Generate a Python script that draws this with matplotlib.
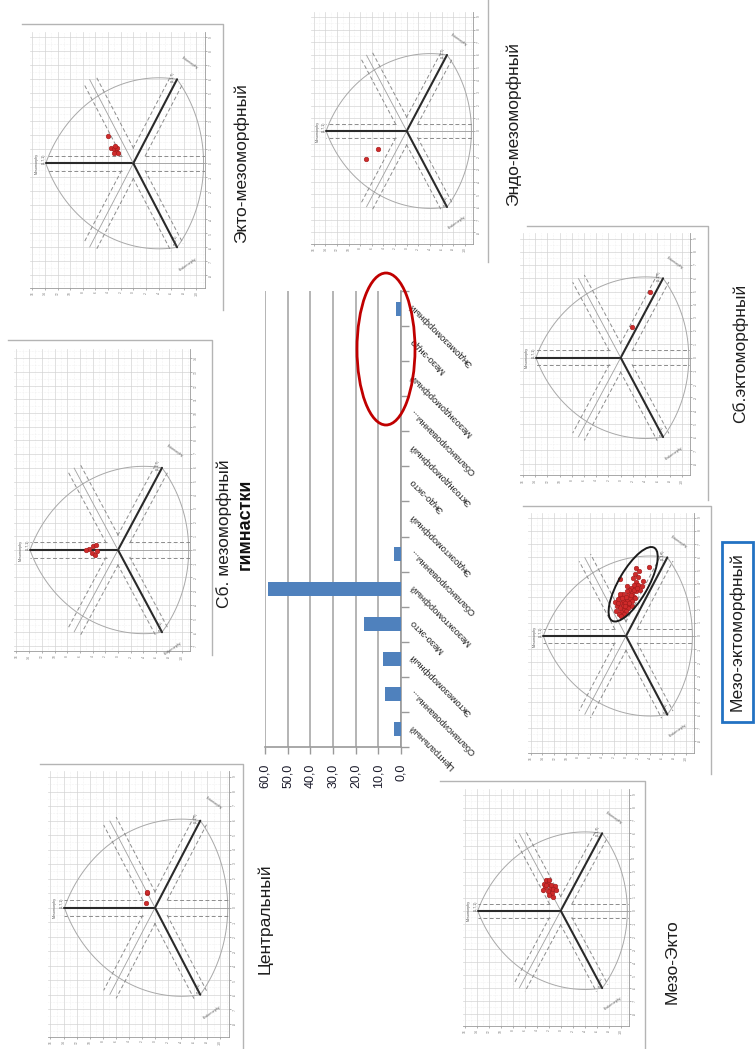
import numpy as np
import matplotlib
matplotlib.use("Agg")
import matplotlib.pyplot as plt
from matplotlib.patches import Ellipse, Rectangle

plt.rcParams['font.family'] = ['Liberation Sans', 'DejaVu Sans']

# ---------------- data ----------------
categories = ["Центральный", "Сбалансированны...", "Эктомезоморфный", "Мезо-экто",
              "Мезоэктоморфный", "Сбалансированны...", "Эндоэктоморфный", "Эндо-экто",
              "Эктоэндоморфный", "Сбалансированны...", "Мезоэндоморфный", "Мезо-эндо",
              "Эндомезоморфный"]
shares = [2.9, 6.9, 8.0, 16.3, 58.8, 2.9, 0.0, 0.0, 0.0, 0.0, 0.0, 0.0, 2.0]
value_ticks = [0, 10, 20, 30, 40, 50, 60]
value_tick_labels = ["0,0", "10,0", "20,0", "30,0", "40,0", "50,0", "60,0"]

# somatochart coordinates: X = ecto - endo, Y = 2*meso - endo - ecto
ecto_meso_X = [1.95, 1.07, 1.0, 1.07, 0.8, 0.7, 0.75, 1.2]
ecto_meso_Y = [3.5, 3.0, 2.6, 2.3, 2.4, 2.7, 2.1, 2.5]

endo_meso_X = [-1.4, -2.2]
endo_meso_Y = [4.3, 6.0]

bal_meso_X = [0.3, -0.2, 0.1, -0.4, 0.4, -0.1, 0.0]
bal_meso_Y = [3.4, 3.6, 4.0, 3.2, 3.0, 2.8, 4.3]

central_X = [0.99, 1.1, 0.3]
central_Y = [1.1, 1.05, 1.15]

meso_ecto_X = [5.3, 5.2, 5.0, 4.7, 4.5, 4.4, 4.2, 4.1, 3.9, 3.9, 3.8, 3.7, 3.6, 3.5,
               3.4, 3.3, 3.4, 3.2, 3.1, 3.0, 3.0, 2.9, 2.8, 2.9, 2.8, 2.7, 2.7, 2.7,
               2.5, 2.5, 2.4, 2.3, 2.3, 2.2, 2.3, 2.1, 2.0, 2.1, 1.9, 1.8, 1.9, 1.7,
               1.7, 1.5, 2.6, 3.5, 4.35, 3.8, 3.0, 2.9, 2.5, 2.5, 3.1, 2.3, 3.5, 3.7,
               3.2]
meso_ecto_Y = [-3.3, -1.5, -1.9, -1.3, -1.8, -1.0, -2.5, -1.5, -1.1, -1.8, -2.3, -0.7,
               -1.3, -0.5, -0.1, -0.9, -1.5, 0.4, -0.3, -1.1, 0.9, 0.1, -0.6, -1.3,
               1.2, 0.5, -0.2, -0.9, 0.8, 0.1, -0.5, 1.3, 0.5, -0.1, -0.8, 0.9, 0.3,
               -0.3, 1.4, 0.7, 0.0, 1.0, 0.3, 0.7, 1.6, -2.0, 0.8, -0.2, 0.0, 0.6,
               -0.4, 1.1, -0.7, 0.2, -1.1, -1.6, 0.8]

bal_ecto_X = [5.0, 2.3]
bal_ecto_Y = [-4.2, -1.6]

mezo_ekto_X = [2.4, 2.4, 2.1, 2.1, 2.0, 1.9, 1.8, 1.7, 1.7, 1.6, 1.5, 1.4, 1.2, 1.1,
               2.0, 1.6]
mezo_ekto_Y = [2.1, 1.7, 2.4, 1.9, 1.4, 0.8, 2.3, 1.6, 1.1, 2.6, 1.9, 1.3, 1.7, 1.1,
               2.1, 0.7]

# ---------------- layout helpers ----------------
W, H = 756, 1049
fig = plt.figure(figsize=(W / 100, H / 100), dpi=100)


def px_rect(x0, y0, x1, y1):
    return [x0 / W, 1 - y1 / H, (x1 - x0) / W, (y1 - y0) / H]


P_LIM = (-8.2, 5.7)
Q_LIM = (-8.9, 9.4)
SQ3 = np.sqrt(3.0)
R = 4 * SQ3


def panel_axes(cx, cy, su, sv, qlim=Q_LIM):
    ax = fig.add_axes(px_rect(cx + P_LIM[0] * su, cy - qlim[1] * sv,
                              cx + P_LIM[1] * su, cy - qlim[0] * sv))
    ax.set_ylim(*qlim)
    return ax


def arc(a, b, bulge=2.0):
    a, b = np.asarray(a, float), np.asarray(b, float)
    m = (a + b) / 2
    c = np.linalg.norm(b - a) / 2
    n = m / np.linalg.norm(m)
    r = (c ** 2 + bulge ** 2) / (2 * bulge)
    ctr = m + n * (bulge - r)
    t0 = np.arctan2(a[1] - ctr[1], a[0] - ctr[0])
    t1 = np.arctan2(b[1] - ctr[1], b[0] - ctr[0])
    if t1 - t0 > np.pi:
        t1 -= 2 * np.pi
    elif t0 - t1 > np.pi:
        t1 += 2 * np.pi
    t = np.linspace(t0, t1, 80)
    return ctr[0] + r * np.cos(t), ctr[1] + r * np.sin(t)


def somatochart(ax, X, Y, ring=None):
    ax.set_xlim(*P_LIM)
    q0, q1 = ax.get_ylim()
    ax.set_facecolor('white')
    pt = np.arange(-8, 6)
    qt = np.arange(int(np.ceil(q0)), int(np.floor(q1)) + 1)
    ax.set_xticks(pt)
    ax.set_yticks(qt)
    ax.set_xticks(np.arange(-7.5, 5.6, 1.0), minor=True)
    ax.set_yticks(np.arange(qt[0] - 0.5, qt[-1] + 0.6, 1.0), minor=True)
    ax.set_ylim(q0, q1)
    ax.set_xticklabels([str(-2 * v) for v in pt], rotation=90)
    ax.set_yticklabels([str(v) for v in qt], rotation=90)
    ax.grid(which='major', color='#d4d4d4', lw=0.5)
    ax.grid(which='minor', color='#e6e6e6', lw=0.4, ls=':')
    ax.yaxis.tick_right()
    ax.tick_params(which='major', labelsize=2.3, length=1.5, width=0.4,
                   colors='#777777', pad=1)
    ax.tick_params(which='minor', length=0)
    for s in ('left', 'top'):
        ax.spines[s].set_visible(False)
    for s in ('bottom', 'right'):
        ax.spines[s].set_color('#9a9a9a')
        ax.spines[s].set_linewidth(0.6)

    meso = (-R, 0.0)
    ecto = (R / 2, 6.0)
    endo = (R / 2, -6.0)
    for a, b in ((meso, ecto), (ecto, endo), (endo, meso)):
        xs, ys = arc(a, b, bulge=2.1)
        ax.plot(xs, ys, color='#a8a8a8', lw=0.7)

    d, t0, L = 0.55, 0.9, 6.9
    for e in ((-1.0, 0.0), (0.5, SQ3 / 2), (0.5, -SQ3 / 2)):
        e = np.array(e)
        n = np.array([-e[1], e[0]])
        ax.plot([0, -L * e[0]], [0, -L * e[1]], color='#a0a0a0', lw=0.6)
        for s in (-1, 1):
            off = s * d * n
            ax.plot([t0 * e[0] + off[0], R * e[0] + off[0]],
                    [t0 * e[1] + off[1], R * e[1] + off[1]],
                    color='#8c8c8c', lw=0.7, ls=(0, (4, 2.5)))
            ax.plot([-t0 * e[0] + off[0], -L * e[0] + off[0]],
                    [-t0 * e[1] + off[1], -L * e[1] + off[1]],
                    color='#8c8c8c', lw=0.7, ls=(0, (4, 2.5)))
        ax.plot([0, R * e[0]], [0, R * e[1]], color='#2a2a2a', lw=1.5,
                solid_capstyle='round')

    tiny = dict(fontsize=2.6, color='#555555')
    ax.text(meso[0] - 0.75, 0, "Mesomorphy", rotation=90, ha='center', va='center', **tiny)
    ax.text(meso[0] - 0.2, 0.35, "(1,7,1)", rotation=90, ha='center', va='center', **tiny)
    ax.text(ecto[0] + 1.0, ecto[1] + 1.2, "Ectomorphy", rotation=-35, ha='center', va='center', **tiny)
    ax.text(ecto[0] - 0.35, ecto[1] + 0.2, "(1,1,7)", rotation=90, ha='center', va='center', **tiny)
    ax.text(endo[0] + 0.9, endo[1] - 1.2, "Endomorphy", rotation=35, ha='center', va='center', **tiny)
    ax.text(endo[0] - 0.1, endo[1] + 0.5, "(7,1,1)", rotation=90, ha='center', va='center', **tiny)

    p = -np.asarray(Y, float) / SQ3
    q = np.asarray(X, float)
    ax.plot(p, q, 'o', ms=3.3, mfc='#cf2b2b', mec='#9e1a1a', mew=0.4, zorder=5)
    if ring is not None:
        ax.add_patch(Ellipse(ring[0], ring[1], ring[2], angle=ring[3], fill=False,
                             ec='#1c1c1c', lw=1.4, zorder=6))


# ---------------- somatochart panels ----------------
somatochart(panel_axes(133.3, 163.3, 12.63, 14.0), ecto_meso_X, ecto_meso_Y)
somatochart(panel_axes(406.7, 131.0, 11.63, 12.67), endo_meso_X, endo_meso_Y)
somatochart(panel_axes(118.0, 550.0, 12.7, 13.7, qlim=(-7.4, 14.7)), bal_meso_X, bal_meso_Y)
somatochart(panel_axes(155.0, 907.7, 13.07, 14.5), central_X, central_Y)
somatochart(panel_axes(626.0, 636.0, 11.93, 13.1), meso_ecto_X, meso_ecto_Y,
            ring=((0.6, 3.95), 6.6, 2.4, 57))
somatochart(panel_axes(620.7, 357.7, 12.23, 13.23), bal_ecto_X, bal_ecto_Y)
somatochart(panel_axes(560.7, 910.7, 11.97, 12.9), mezo_ekto_X, mezo_ekto_Y)

# ---------------- bar chart ----------------
ax = fig.add_axes(px_rect(265, 291, 401, 747))
pos = np.arange(len(categories))
ax.barh(pos, shares, height=0.4, color='#4f81bd', zorder=3)
ax.set_xlim(60, 0)
ax.set_ylim(-0.5, len(categories) - 0.5)
ax.set_xticks(value_ticks)
ax.set_xticklabels(value_tick_labels, rotation=90, fontsize=9, color='#1c1c2c')
ax.xaxis.grid(True, color='#a0a0a0', lw=1.1, zorder=0)
ax.set_axisbelow(True)
ax.set_yticks(np.arange(-0.5, len(categories), 1.0))
ax.set_yticklabels([])
ax.yaxis.tick_right()
ax.tick_params(axis='y', length=6, width=1, color='#9a9a9a', direction='out')
ax.tick_params(axis='x', length=5, width=1, color='#9a9a9a', direction='out', pad=7)
for s in ('left', 'top'):
    ax.spines[s].set_visible(False)
for s in ('right', 'bottom'):
    ax.spines[s].set_color('#9a9a9a')
    ax.spines[s].set_linewidth(1.2)
for i, lab in enumerate(categories):
    ax.annotate(lab, xy=(0, i), xytext=(10, 4), textcoords='offset pixels',
                rotation=135, rotation_mode='anchor', ha='right', va='center',
                fontsize=6.8, color='#262626', annotation_clip=False)

# ---------------- frames, captions, highlights ----------------
cv = fig.add_axes([0, 0, 1, 1], facecolor='none')
cv.set_xlim(0, W)
cv.set_ylim(H, 0)
cv.axis('off')

frame_kw = dict(color='#b4b4b4', lw=1.0)
frames = [
    ((22, 24), (223, 24), (223, 310)),
    ((488, 0), (488, 0), (488, 262)),
    ((8, 340), (212, 340), (212, 655)),
    ((40, 764), (243, 764), (243, 1049)),
    ((523, 506), (711, 506), (711, 774)),
    ((527, 226), (708, 226), (708, 500)),
    ((440, 781), (645, 781), (645, 1049)),
]
for (a, b, c) in frames:
    cv.plot([a[0], b[0], c[0]], [a[1], b[1], c[1]], **frame_kw)

cap_kw = dict(rotation=90, ha='center', va='center', fontsize=12.5, color='#1e1e1e')
cv.text(241, 163, "Экто-мезоморфный", **cap_kw)
cv.text(513, 124, "Эндо-мезоморфный", **cap_kw)
cv.text(224, 534, "Сб. мезоморфный", **cap_kw)
cv.text(265, 919, "Центральный", **cap_kw)
cv.text(740, 353, "Сб.эктоморфный", **cap_kw)
cv.text(672, 962, "Мезо-Экто", **cap_kw)
cv.text(737, 632, "Мезо-эктоморфный", **cap_kw)
cv.text(245, 524, "гимнастки", rotation=90, ha='center', va='center',
        fontsize=13, fontweight='bold', color='#111111')

cv.add_patch(Rectangle((722, 542), 31, 180, fill=False, ec='#2272c3', lw=2.0))
cv.add_patch(Ellipse((386, 349), 58, 152, fill=False, ec='#c00000', lw=2.0))

fig.savefig("out.png", dpi=100, facecolor='white')
